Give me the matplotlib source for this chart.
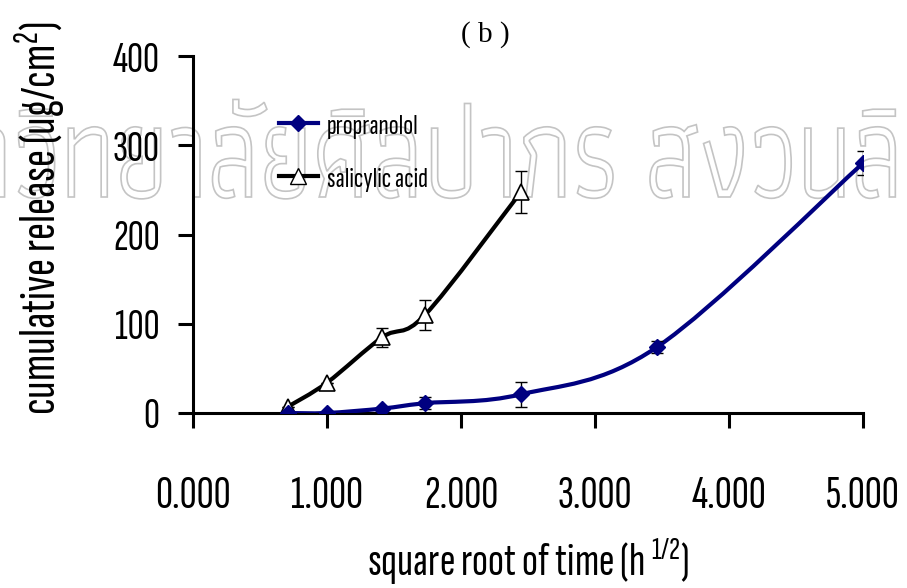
import numpy as np
import matplotlib
matplotlib.use("Agg")
import matplotlib.pyplot as plt
from matplotlib import font_manager
from matplotlib.path import Path
from matplotlib.patches import PathPatch
from matplotlib.lines import Line2D
from matplotlib.textpath import TextPath
from matplotlib.transforms import Affine2D

# sqrt(time) sampling points
time_sqrt = [0.707, 1.0, 1.414, 1.732, 2.449, 3.464, 5.0]

propranolol = [0, 0, 5, 11, 21, 74, 280]
propranolol_sd = [0, 0, 2, 7, 14, 7, 13]

salicylic = [7, 34, 85, 110, 248]
salicylic_sd = [0, 0, 10.5, 17, 23.5]

x_ticks = [0, 1, 2, 3, 4, 5]
x_ticklabels = ["0.000", "1.000", "2.000", "3.000", "4.000", "5.000"]
y_ticks = [0, 100, 200, 300, 400]


def pick(*names):
    have = {f.name for f in font_manager.fontManager.ttflist}
    for n in names:
        if n in have:
            return n
    return "DejaVu Sans"


NARROW = pick("Sofia Sans Extra Condensed", "PT Sans Narrow", "Archivo Narrow")
SERIF = pick("Liberation Serif", "Tinos", "DejaVu Serif")
THAI = pick("Athiti", "Anuphan", "Noto Sans Thai")

plt.rcParams["font.family"] = [NARROW, "DejaVu Sans"]
plt.rcParams["mathtext.fontset"] = "custom"
plt.rcParams["mathtext.rm"] = NARROW
plt.rcParams["mathtext.it"] = NARROW


def smooth_path(x, y):
    """Catmull-Rom style bezier through the points (spreadsheet smoothed line)."""
    pts = np.column_stack([x, y]).astype(float)
    verts = [pts[0]]
    codes = [Path.MOVETO]
    n = len(pts)
    for i in range(n - 1):
        p0 = pts[i - 1] if i > 0 else pts[i]
        p1 = pts[i]
        p2 = pts[i + 1]
        p3 = pts[i + 2] if i + 2 < n else pts[i + 1]
        c1 = p1 + (p2 - p0) / 6.0
        c2 = p2 - (p3 - p1) / 6.0
        verts += [c1, c2, p2]
        codes += [Path.CURVE4] * 3
    return Path(verts, codes)


fig = plt.figure(figsize=(9.07, 5.88), dpi=100)
ax = fig.add_axes([193 / 907, 1 - 413 / 588, 670 / 907, 357 / 588])
ax.patch.set_visible(False)


def watermark(text, x, baseline, align, sx=0.74, size=134):
    # condensed outline text placed in pixel coordinates
    tp = TextPath((0, 0), text, size=size, prop=font_manager.FontProperties(family=THAI))
    ext = tp.get_extents()
    tx = x - sx * (ext.x1 if align == "right" else ext.x0)
    tr = Affine2D().scale(sx, 1.0).translate(tx, 588 - baseline)
    fig.add_artist(PathPatch(tp, transform=tr, fill=False, edgecolor="#c4c4c4",
                             lw=1.2, zorder=-1))


watermark("มหาวิทยาลัยศิลปากร", 613, 197, "right")
watermark("สงวนลิขสิทธิ์", 650, 197, "left")

navy = "#000080"

ax.add_patch(PathPatch(smooth_path(time_sqrt, propranolol), fill=False,
                       edgecolor=navy, lw=3.0, zorder=3))
ax.add_patch(PathPatch(smooth_path(time_sqrt[:5], salicylic), fill=False,
                       edgecolor="black", lw=3.0, zorder=3))

ax.errorbar(time_sqrt, propranolol, yerr=propranolol_sd, fmt="none",
            ecolor="black", elinewidth=1, capsize=4, capthick=1, zorder=4)
ax.errorbar(time_sqrt[:5], salicylic, yerr=salicylic_sd, fmt="none",
            ecolor="black", elinewidth=1, capsize=4, capthick=1, zorder=4)

ax.plot(time_sqrt[:5], salicylic, ls="none", marker="^", ms=11,
        mfc="white", mec="black", mew=1.2, zorder=5)
ax.plot(time_sqrt, propranolol, ls="none", marker="D", ms=8,
        mfc=navy, mec=navy, zorder=6)

ax.set_xlim(0, 5)
ax.set_ylim(0, 400)
ax.set_xticks(x_ticks)
ax.set_xticklabels(x_ticklabels)
ax.set_yticks(y_ticks)

for s in ["top", "right"]:
    ax.spines[s].set_visible(False)
for s in ["left", "bottom"]:
    ax.spines[s].set_linewidth(2.2)
ax.tick_params(axis="both", direction="out", length=11, width=2.2, colors="black")
ax.tick_params(axis="x", pad=34, labelsize=34)
ax.tick_params(axis="y", pad=13, labelsize=32)

ax.set_xlabel("square root of time (h $^{1/2}$)", fontsize=34, va="center")
ax.xaxis.set_label_coords(0.5, -0.415)
ax.set_ylabel("cumulative release (ug/cm$^{2}$)", fontsize=37, va="center")
ax.yaxis.set_label_coords(-0.228, 0.545)

fig.text(485 / 907, 1 - 35 / 588, "( b )", fontsize=21, ha="center", va="center",
         family=SERIF)

handles = [
    Line2D([], [], color=navy, lw=3.0, marker="D", ms=8, mfc=navy, mec=navy),
    Line2D([], [], color="black", lw=3.0, marker="^", ms=11, mfc="white", mec="black"),
]
ax.legend(handles, ["propranolol", "salicylic acid"], loc="upper left",
          bbox_to_anchor=(0.128, 0.84), frameon=False, fontsize=21,
          borderpad=0, borderaxespad=0, handlelength=1.35, handletextpad=0.3,
          labelspacing=0.95)

fig.savefig("out.png", dpi=100)
